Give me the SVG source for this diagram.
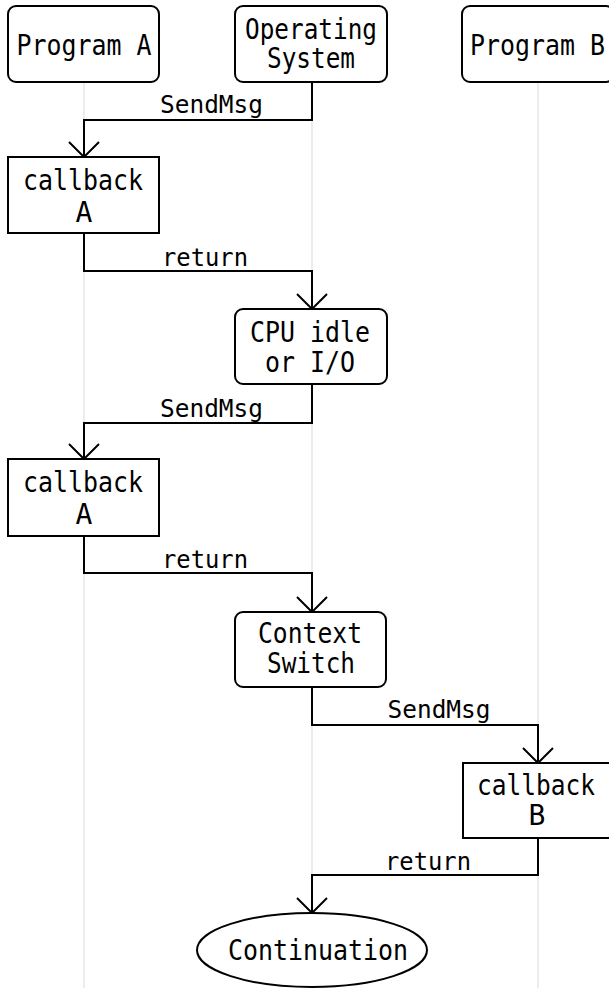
<svg xmlns="http://www.w3.org/2000/svg" width="609" height="988" viewBox="0 0 609 988">
<style>
  .life { stroke: #e6e6e6; stroke-width: 1.5; fill: none; }
  .box { fill: #ffffff; stroke: #000000; stroke-width: 2; }
  .edge { fill: none; stroke: #000000; stroke-width: 2; }
  .t { font-family: "DejaVu Sans Mono", "Liberation Mono", monospace; font-size: 28px; fill: #000000; text-anchor: middle; }
  .lbl { font-family: "DejaVu Sans Mono", "Liberation Mono", monospace; font-size: 25px; fill: #000000; text-anchor: middle; }
</style>
<defs>
  <marker id="arr" viewBox="-17 -16 18 32" refX="0" refY="0" markerWidth="18" markerHeight="32" markerUnits="userSpaceOnUse" orient="auto">
    <path d="M-15,-15 L0,0 L-15,15" fill="none" stroke="#000000" stroke-width="2"/>
  </marker>
</defs>
<rect x="0" y="0" width="609" height="988" fill="#ffffff"/>
<g id="lifelines">
  <line class="life" x1="84" y1="82" x2="84" y2="988"/>
  <line class="life" x1="312" y1="82" x2="312" y2="988"/>
  <line class="life" x1="538" y1="82" x2="538" y2="988"/>
</g>
<g id="connectors">
  <path class="edge" d="M312,82 V120 H84 V157" marker-end="url(#arr)"/>
  <text class="lbl" x="211.5" y="113" textLength="103" lengthAdjust="spacingAndGlyphs">SendMsg</text>
  <path class="edge" d="M84,233 V271 H312 V309" marker-end="url(#arr)"/>
  <text class="lbl" x="205" y="266" textLength="86" lengthAdjust="spacingAndGlyphs">return</text>
  <path class="edge" d="M312,384 V423 H84 V459" marker-end="url(#arr)"/>
  <text class="lbl" x="211.5" y="417" textLength="103" lengthAdjust="spacingAndGlyphs">SendMsg</text>
  <path class="edge" d="M84,536 V573 H312 V612" marker-end="url(#arr)"/>
  <text class="lbl" x="205" y="568" textLength="86" lengthAdjust="spacingAndGlyphs">return</text>
  <path class="edge" d="M312,687 V725 H538 V763" marker-end="url(#arr)"/>
  <text class="lbl" x="439" y="718" textLength="103" lengthAdjust="spacingAndGlyphs">SendMsg</text>
  <path class="edge" d="M538,838 V875 H312 V913" marker-end="url(#arr)"/>
  <text class="lbl" x="428" y="870" textLength="86" lengthAdjust="spacingAndGlyphs">return</text>
</g>
<g id="programA">
  <rect class="box" x="8" y="6" width="151" height="76" rx="8"/>
  <text class="t" x="84" y="55" textLength="135" lengthAdjust="spacingAndGlyphs">Program A</text>
</g>
<g id="os">
  <rect class="box" x="235" y="6" width="152" height="76" rx="8"/>
  <text class="t" x="311" y="39" textLength="132" lengthAdjust="spacingAndGlyphs">Operating</text>
  <text class="t" x="311" y="68" textLength="88" lengthAdjust="spacingAndGlyphs">System</text>
</g>
<g id="programB">
  <rect class="box" x="462" y="6" width="152" height="76" rx="8"/>
  <text class="t" x="537.5" y="55" textLength="135" lengthAdjust="spacingAndGlyphs">Program B</text>
</g>
<g id="callbackA1">
  <rect class="box" x="8" y="157" width="151" height="76"/>
  <text class="t" x="83" y="190" textLength="120" lengthAdjust="spacingAndGlyphs">callback</text>
  <text class="t" x="84" y="222">A</text>
</g>
<g id="cpuIdle">
  <rect class="box" x="235" y="309" width="152" height="75" rx="8"/>
  <text class="t" x="310" y="342" textLength="120" lengthAdjust="spacingAndGlyphs">CPU idle</text>
  <text class="t" x="310" y="372" textLength="90" lengthAdjust="spacingAndGlyphs">or I/O</text>
</g>
<g id="callbackA2">
  <rect class="box" x="8" y="459" width="151" height="77"/>
  <text class="t" x="83" y="492" textLength="120" lengthAdjust="spacingAndGlyphs">callback</text>
  <text class="t" x="84" y="524">A</text>
</g>
<g id="contextSwitch">
  <rect class="box" x="235" y="612" width="151" height="75" rx="8"/>
  <text class="t" x="310" y="643" textLength="104" lengthAdjust="spacingAndGlyphs">Context</text>
  <text class="t" x="311" y="673" textLength="88" lengthAdjust="spacingAndGlyphs">Switch</text>
</g>
<g id="callbackB">
  <rect class="box" x="463" y="763" width="151" height="75"/>
  <text class="t" x="536" y="795" textLength="118" lengthAdjust="spacingAndGlyphs">callback</text>
  <text class="t" x="537" y="825">B</text>
</g>
<g id="continuation">
  <ellipse class="box" cx="312" cy="950" rx="115" ry="37"/>
  <text class="t" x="318" y="960" textLength="180" lengthAdjust="spacingAndGlyphs">Continuation</text>
</g>
</svg>
